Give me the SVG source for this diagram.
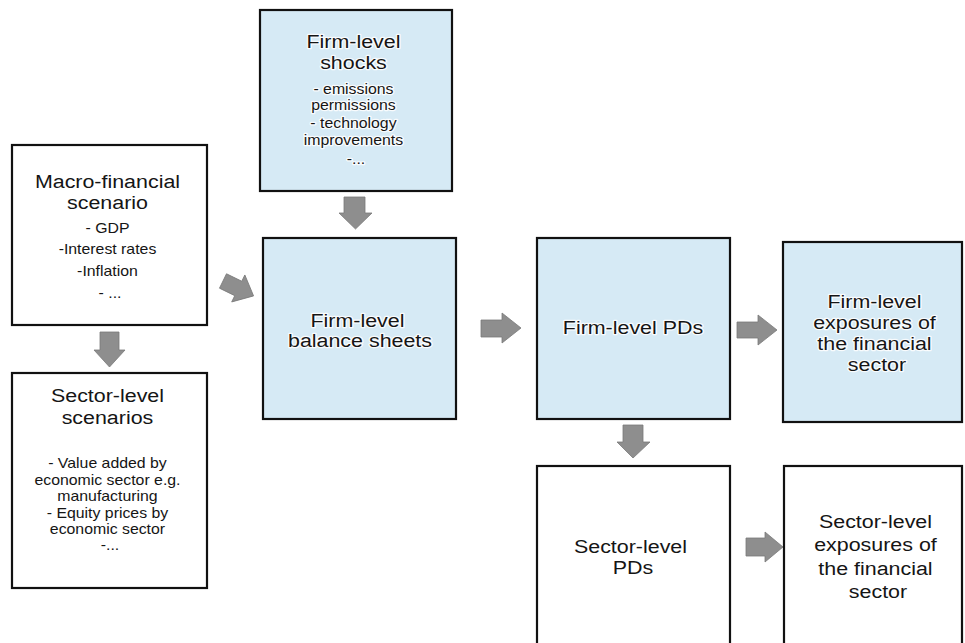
<svg xmlns="http://www.w3.org/2000/svg" width="965" height="643" viewBox="0 0 965 643">
  <defs>
    <style>
      .box { stroke: #111; stroke-width: 2.2; }
      .plain { fill: #ffffff; }
      .blue { fill: #d6eaf5; }
      .t { font-family: "Liberation Sans", Arial, sans-serif; fill: #151515; text-anchor: middle; }
      .h { font-size: 18.8px; }
      .s { font-size: 13.9px; }
      .glow { stroke: #ffffff; stroke-width: 2.5; stroke-opacity: 0.85; paint-order: stroke; stroke-linejoin: round; }
      .arrow { fill: #8e8e8e; stroke: #7a7a7a; stroke-width: 0.8; }
    </style>
    <!-- block arrow pointing right, origin at tail centre -->
    <path id="blk" d="M0,-8 L17,-8 L17,-15 L34,0 L17,15 L17,8 L0,8 Z"/>
  </defs>

  <rect x="0" y="0" width="965" height="643" fill="#ffffff"/>

  <!-- connectors -->
  <g id="connectors">
    <!-- macro -> sector scenarios -->
    <path class="arrow" d="M100,332 L119,332 L119,350 L125,350 L109.5,367 L94,350 L100,350 Z"/>
    <!-- shocks -> balance sheets -->
    <path class="arrow" d="M344,197 L365,197 L365,213 L372,213 L355.5,229 L339,213 L344,213 Z"/>
    <!-- macro -> balance sheets (diagonal) -->
    <use href="#blk" class="arrow" transform="translate(223,281) rotate(26)"/>
    <!-- balance sheets -> firm PDs -->
    <path class="arrow" d="M481,320 L502,320 L502,313 L521,328 L502,343 L502,337 L481,337 Z"/>
    <!-- firm PDs -> firm exposures -->
    <path class="arrow" d="M737,322 L758,322 L758,315 L777,330 L758,345 L758,338 L737,338 Z"/>
    <!-- firm PDs -> sector PDs -->
    <path class="arrow" d="M623,425 L643,425 L643,442 L650,442 L633,458 L617,442 L623,442 Z"/>
    <!-- sector PDs -> sector exposures -->
    <path class="arrow" d="M746,538 L765,538 L765,532 L783,547 L765,562 L765,556 L746,556 Z"/>
  </g>

  <!-- Macro-financial scenario -->
  <g id="macro">
    <rect class="box plain" x="12" y="145" width="195" height="180"/>
    <text class="t" transform="translate(110,0) scale(1.14,1)">
      <tspan class="h" x="0" y="188">Macro-financial</tspan>
      <tspan class="h" x="0" y="209">scenario</tspan>
      <tspan class="s" x="0" y="233">- GDP</tspan>
      <tspan class="s" x="0" y="254">-Interest rates</tspan>
      <tspan class="s" x="0" y="276">-Inflation</tspan>
      <tspan class="s" x="0" y="298">- ...</tspan>
    </text>
  </g>

  <!-- Sector-level scenarios -->
  <g id="sector-scenarios">
    <rect class="box plain" x="12" y="373" width="195" height="215"/>
    <text class="t" transform="translate(110,0) scale(1.14,1)">
      <tspan class="h" x="0" y="402">Sector-level</tspan>
      <tspan class="h" x="0" y="424">scenarios</tspan>
      <tspan class="s" x="0" y="468">- Value added by</tspan>
      <tspan class="s" x="0" y="485">economic sector e.g.</tspan>
      <tspan class="s" x="0" y="501">manufacturing</tspan>
      <tspan class="s" x="0" y="518">- Equity prices by</tspan>
      <tspan class="s" x="0" y="534">economic sector</tspan>
      <tspan class="s" x="0" y="550">-...</tspan>
    </text>
  </g>

  <!-- Firm-level shocks -->
  <g id="firm-shocks">
    <rect class="box blue" x="260" y="10" width="192" height="181"/>
    <text class="t glow" transform="translate(356,0) scale(1.14,1)">
      <tspan class="h" x="0" y="48">Firm-level</tspan>
      <tspan class="h" x="0" y="69">shocks</tspan>
      <tspan class="s" x="0" y="94">- emissions</tspan>
      <tspan class="s" x="0" y="110">permissions</tspan>
      <tspan class="s" x="0" y="128">- technology</tspan>
      <tspan class="s" x="0" y="145">improvements</tspan>
      <tspan class="s" x="0" y="164">-...</tspan>
    </text>
  </g>

  <!-- Firm-level balance sheets -->
  <g id="firm-balance-sheets">
    <rect class="box blue" x="263" y="238" width="193" height="181"/>
    <text class="t glow" transform="translate(360,0) scale(1.14,1)">
      <tspan class="h" x="0" y="327">Firm-level</tspan>
      <tspan class="h" x="0" y="347">balance sheets</tspan>
    </text>
  </g>

  <!-- Firm-level PDs -->
  <g id="firm-pds">
    <rect class="box blue" x="537" y="238" width="193" height="181"/>
    <text class="t glow" transform="translate(633,0) scale(1.14,1)">
      <tspan class="h" x="0" y="334">Firm-level PDs</tspan>
    </text>
  </g>

  <!-- Firm-level exposures of the financial sector -->
  <g id="firm-exposures">
    <rect class="box blue" x="783" y="242" width="179" height="180"/>
    <text class="t glow" transform="translate(877,0) scale(1.14,1)">
      <tspan class="h" x="0" y="308">Firm-level</tspan>
      <tspan class="h" x="0" y="329">exposures of</tspan>
      <tspan class="h" x="0" y="350">the financial</tspan>
      <tspan class="h" x="0" y="371">sector</tspan>
    </text>
  </g>

  <!-- Sector-level PDs -->
  <g id="sector-pds">
    <rect class="box plain" x="537" y="466" width="193" height="190"/>
    <text class="t" transform="translate(633,0) scale(1.14,1)">
      <tspan class="h" x="0" y="553">Sector-level</tspan>
      <tspan class="h" x="0" y="574">PDs</tspan>
    </text>
  </g>

  <!-- Sector-level exposures of the financial sector -->
  <g id="sector-exposures">
    <rect class="box plain" x="784" y="466" width="178" height="190"/>
    <text class="t" transform="translate(878,0) scale(1.14,1)">
      <tspan class="h" x="0" y="528">Sector-level</tspan>
      <tspan class="h" x="0" y="551">exposures of</tspan>
      <tspan class="h" x="0" y="575">the financial</tspan>
      <tspan class="h" x="0" y="598">sector</tspan>
    </text>
  </g>
</svg>
